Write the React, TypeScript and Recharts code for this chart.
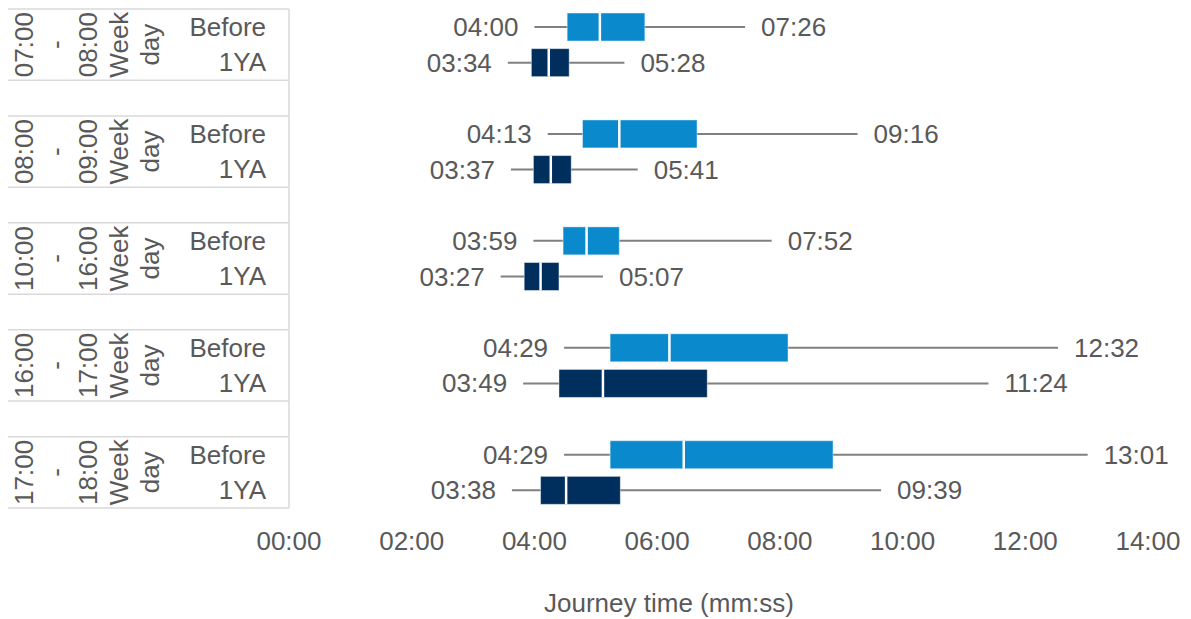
import React from 'react';
import { ComposedChart, Bar, XAxis, YAxis } from 'recharts';

// ---- data (seconds) ----
const groupLabels = ['07:00 - 08:00', '08:00 - 09:00', '10:00 - 16:00', '16:00 - 17:00', '17:00 - 18:00'];
const dayTypeLabel = 'Week day';
const periods = ['Before', '1YA'];
// order: group0 Before, group0 1YA, group1 Before, ...
const minVals = [240, 214, 253, 217, 239, 207, 269, 229, 269, 218];
const q1Vals = [272, 237, 287, 239, 268, 230, 314, 264, 314, 246];
const medVals = [304, 254, 323, 256, 291, 246, 372, 307, 386, 271];
const q3Vals = [348, 274, 399, 276, 323, 264, 488, 409, 532, 324];
const maxVals = [446, 328, 556, 341, 472, 307, 752, 684, 781, 579];
const xTicks = [0, 120, 240, 360, 480, 600, 720, 840];
const axisTitle = 'Journey time (mm:ss)';

const seriesColors = ['#0A8ACD', '#002E5D'];
const TEXT = '#595959';
const FONT = '"Liberation Sans", Arial, sans-serif';
const FS = 26;

const fmt = (s: number) => {
  const m = Math.floor(s / 60);
  const ss = Math.round(s - m * 60);
  return `${String(m).padStart(2, '0')}:${String(ss).padStart(2, '0')}`;
};

type Row = any;
const rows: Row[] = [];
groupLabels.forEach((g, gi) => {
  if (gi > 0) rows.push({ key: `gap${gi}`, blank: true });
  periods.forEach((p, pi) => {
    const i = gi * 2 + pi;
    rows.push({
      key: `${gi}-${p}`,
      group: g,
      period: p,
      gi,
      pi,
      min: minVals[i],
      q1: q1Vals[i],
      med: medVals[i],
      q3: q3Vals[i],
      max: maxVals[i],
      range: [minVals[i], maxVals[i]],
    });
  });
});

const W = 1183;
const H = 611;
const TOP = 1;
const PLOT_BOTTOM = 500;
const Y_AXIS_W = 281;
const ROW_H = (PLOT_BOTTOM - TOP) / rows.length;

const BoxShape = (props: any) => {
  const { x, y, width, height, payload } = props;
  if (!payload || !payload.range) return <g />;
  const k = width / (payload.max - payload.min);
  const px = (v: number) => x + (v - payload.min) * k;
  const cy = y + height / 2;
  const fill = seriesColors[payload.pi];
  return (
    <g>
      <line x1={px(payload.min)} x2={px(payload.max)} y1={cy} y2={cy} stroke="#808080" strokeWidth={2} />
      <rect
        x={px(payload.q1)}
        y={y}
        width={px(payload.q3) - px(payload.q1)}
        height={height}
        fill={fill}
        stroke="#ffffff"
        strokeOpacity={0.45}
        strokeWidth={1}
      />
      <line x1={px(payload.med)} x2={px(payload.med)} y1={y} y2={y + height} stroke="#ffffff" strokeWidth={2.5} />
      <text x={px(payload.min) - 16} y={cy} textAnchor="end" dominantBaseline="central" fill={TEXT} fontSize={FS} fontFamily={FONT}>
        {fmt(payload.min)}
      </text>
      <text x={px(payload.max) + 16} y={cy} textAnchor="start" dominantBaseline="central" fill={TEXT} fontSize={FS} fontFamily={FONT}>
        {fmt(payload.max)}
      </text>
    </g>
  );
};

const CatTick = (props: any) => {
  const { y, payload } = props;
  const row = rows.find((r) => r.key === payload.value);
  if (!row || row.blank) return <g />;
  const els: any[] = [
    <text key="p" x={Y_AXIS_W - 23} y={y} textAnchor="end" dominantBaseline="central" fill={TEXT} fontSize={FS} fontFamily={FONT}>
      {row.period}
    </text>,
  ];
  if (row.pi === 0) {
    const top = y - ROW_H / 2;
    const bottom = y + 1.5 * ROW_H;
    const cy = y + ROW_H / 2;
    els.push(<line key="t" x1={0} x2={Y_AXIS_W} y1={top} y2={top} stroke="#d9d9d9" strokeWidth={1.5} />);
    els.push(<line key="b" x1={0} x2={Y_AXIS_W} y1={bottom} y2={bottom} stroke="#d9d9d9" strokeWidth={1.5} />);
    const lines = [...row.group.split(' '), ...dayTypeLabel.split(' ')];
    const xs = [16, 48, 80, 111, 142];
    lines.forEach((t: string, li: number) => {
      els.push(
        <text
          key={`g${li}`}
          x={xs[li]}
          y={cy}
          transform={`rotate(-90, ${xs[li]}, ${cy})`}
          textAnchor="middle"
          dominantBaseline="central"
          fill={TEXT}
          fontSize={FS}
          fontFamily={FONT}
        >
          {t}
        </text>
      );
    });
  }
  return <g>{els}</g>;
};

export default function App() {
  return (
    <div style={{ width: W, height: H, fontFamily: FONT }}>
      <ComposedChart
        width={W}
        height={H}
        data={rows}
        layout="vertical"
        margin={{ top: TOP, right: 43, left: 0, bottom: 0 }}
      >
        <XAxis
          type="number"
          domain={[0, 840]}
          ticks={xTicks}
          tickFormatter={fmt}
          axisLine={false}
          tickLine={false}
          tickMargin={18}
          height={H - PLOT_BOTTOM}
          tick={{ fill: TEXT, fontSize: FS, fontFamily: FONT }}
          label={{
            content: () => (
              <text x={661} y={604} textAnchor="middle" fill={TEXT} fontSize={FS} fontFamily={FONT}>
                {axisTitle}
              </text>
            ),
          }}
        />
        <YAxis
          type="category"
          dataKey="key"
          width={Y_AXIS_W}
          interval={0}
          axisLine={{ stroke: '#d9d9d9', strokeWidth: 1.5 }}
          tickLine={false}
          tick={<CatTick />}
        />
        <Bar dataKey="range" barSize={28} shape={<BoxShape />} isAnimationActive={false} />
      </ComposedChart>
    </div>
  );
}
